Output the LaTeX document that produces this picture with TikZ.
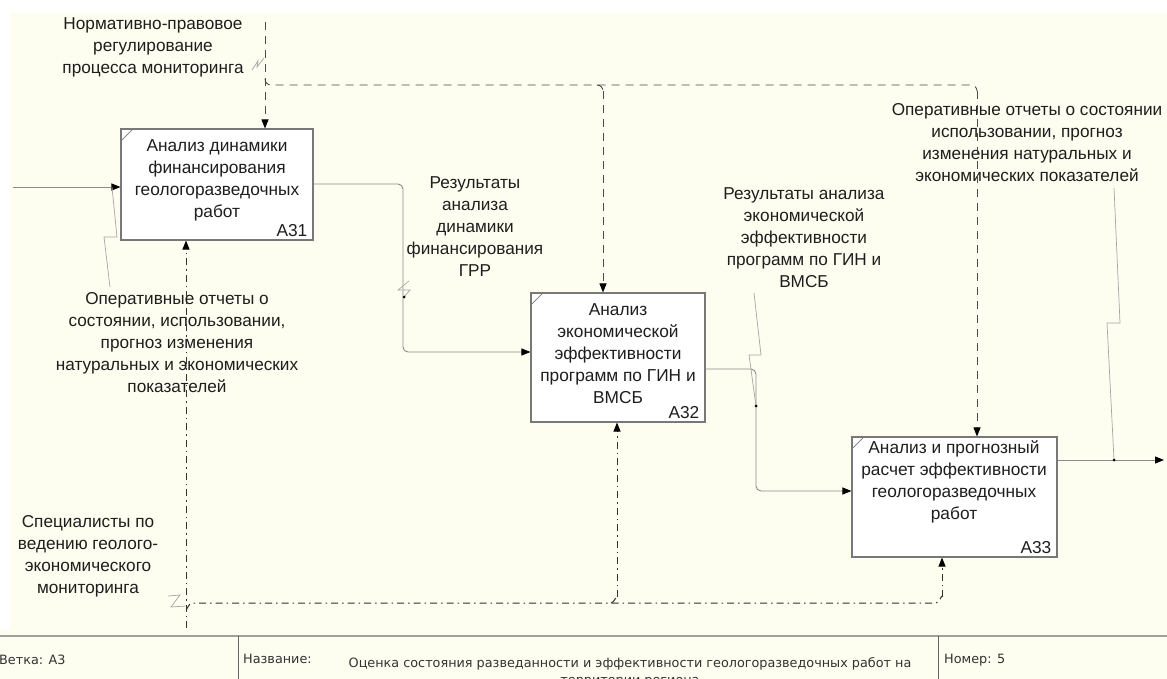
\documentclass[tikz,border=0pt]{standalone}
\usepackage{fontspec}
\setmainfont{Liberation Sans}
\newfontfamily\tbfont{DejaVu Sans}
\usetikzlibrary{arrows.meta}
\definecolor{paper}{RGB}{253,253,240}
\definecolor{edge}{RGB}{120,120,120}
\definecolor{wire}{RGB}{140,140,140}
\definecolor{ink}{RGB}{30,30,30}
\definecolor{tbline}{RGB}{160,160,160}
\begin{document}
\begin{tikzpicture}[x=1pt,y=-1pt,
  fnbox/.style={draw=edge, fill=white, line width=1.1pt, inner sep=0pt, rectangle},
  boxtext/.style={font=\fontsize{17.3}{22}\selectfont, align=center, text=ink, inner sep=0pt},
  lbl/.style={font=\fontsize{17.2}{22}\selectfont, align=center, text=ink, inner sep=0pt},
  boxid/.style={font=\fontsize{17.3}{20}\selectfont, text=ink, inner sep=0pt, anchor=base east},
  arr/.style={-{Triangle[length=9pt,width=7pt,color=black]}},
  flow/.style={draw=wire, line width=0.9pt, arr},
  ctrl/.style={draw=black!70, line width=0.9pt, dash pattern=on 8pt off 6pt},
  mech/.style={draw=black!80, line width=1pt, dash pattern=on 7pt off 4pt on 1.5pt off 4pt},
  leader/.style={draw=black!35, line width=0.7pt},
  tbtext/.style={font=\tbfont\fontsize{12.8}{14}\selectfont, text=black!80, inner sep=0pt},
  jdot/.style={fill=black, circle, inner sep=0pt, minimum size=3pt}
]
\useasboundingbox (0,0) rectangle (1167,679);
\fill[white] (0,0) rectangle (1167,679);
\fill[paper] (10,13) rectangle (1167,679);
\fill[paper] (0,630) rectangle (10,679);

% activity boxes
\node[fnbox, minimum width=192pt, minimum height=111pt] (a31) at (217,184.5) {};
\node[fnbox, minimum width=174pt, minimum height=129pt] (a32) at (618,357.5) {};
\node[fnbox, minimum width=205pt, minimum height=120pt] (a33) at (954.5,497) {};
\foreach \b in {a31,a32,a33}{
  \draw[edge, line width=0.8pt] ([yshift=-13pt]\b.north west) -- ([xshift=13pt]\b.north west);
}
\node[boxtext] (t31) at (217,180) {Анализ динамики\\финансирования\\геологоразведочных\\работ};
\node[boxtext] (t32) at (618,354) {Анализ\\экономической\\эффективности\\программ по ГИН и\\ВМСБ};
\node[boxtext] (t33) at (954,482) {Анализ и прогнозный\\расчет эффективности\\геологоразведочных\\работ};
\node[boxid] (id31) at ([xshift=-6pt,yshift=4pt]a31.south east) {A31};
\node[boxid] (id32) at ([xshift=-6pt,yshift=4pt]a32.south east) {A32};
\node[boxid] (id33) at ([xshift=-6pt,yshift=4pt]a33.south east) {A33};

% arrow labels
\node[lbl] (lctl) at (153,47.5) {Нормативно-правовое\\регулирование\\процесса мониторинга};
\node[lbl] (lo1) at (475,227) {Результаты\\анализа\\динамики\\финансирования\\ГРР};
\node[lbl] (lo2) at (804,238) {Результаты анализа\\экономической\\эффективности\\программ по ГИН и\\ВМСБ};
\node[lbl] (lo3) at (1027,142.5) {Оперативные отчеты о состоянии\\использовании, прогноз\\изменения натуральных и\\экономических показателей};
\node[lbl] (lin) at (177,343) {Оперативные отчеты о\\состоянии, использовании,\\прогноз изменения\\натуральных и экономических\\показателей};
\node[lbl] (lmech) at (88,556) {Специалисты по\\ведению геолого-\\экономического\\мониторинга};

% free ends on the boundary
\coordinate (in1) at (13,187);
\coordinate (ctop) at (265,22);
\coordinate (cbot) at (186,628);
\coordinate (out1) at (1164,460);

% input
\draw[flow] (in1) -- (in1 -| a31.west);
% A31 -> A32
\draw[flow, rounded corners=5pt] (a31.east |- 0,184) -- (403,184) -- (403,352) -- (a32.west |- 0,352);
% A32 -> A33
\draw[flow, rounded corners=5pt] (a32.east |- 0,369) -- (756,369) -- (756,491) -- (a33.west |- 0,491);
% A33 output
\draw[flow] (a33.east |- 0,460) -- (out1);

% control
\draw[ctrl, arr] (ctop) -- (a31.north -| 265,0);
\draw[ctrl] (265,79) to[out=-90,in=180] (271,85) -- (971,85) to[out=0,in=90] (977,91);
\draw[ctrl, arr] (977,91) -- (a33.north -| 977,0);
\draw[ctrl] (597,85) to[out=0,in=90] (603,91);
\draw[ctrl, arr] (603,91) -- (a32.north -| 603,0);

% mechanism
\draw[mech, arr] (cbot) -- (a31.south -| 186,0);
\draw[mech] (186,609) to[out=-90,in=180] (192,603) -- (936,603) to[out=0,in=90] (942,597);
\draw[mech, arr] (942,597) -- (a33.south -| 942,0);
\draw[mech] (611,603) to[out=0,in=90] (617,597);
\draw[mech, arr] (617,597) -- (a32.south -| 617,0);

% label leaders and squiggles
\draw[leader] (252,70) -- (258,61) -- (257,67) -- (264,58);
\draw[leader] (168,596) -- (180,595) -- (171,607) -- (186,606);
\draw[leader] (409,281) -- (398,290) -- (410,290) -- (404,297);
\node[jdot] (d1) at (404,297) {};
\draw[leader] (110,287) -- (104,237) -- (117,237) -- (112,187);
\draw[leader] (754,293) -- (761,355) -- (749,355) -- (756,406);
\node[jdot] (d2) at (756,406) {};
\draw[leader] (1114,188) -- (1120,323) -- (1107,323) -- (1114,460);
\node[jdot] (d3) at (1114,460) {};

% title block
\draw[tbline, line width=1.5pt] (0,636) -- (1167,636);
\draw[black!60, line width=1pt] (238,636) -- (238,679);
\draw[black!60, line width=1pt] (938,636) -- (938,679);
\node[tbtext, anchor=base west] (tb1) at (-1,664) {Ветка: A3};
\node[tbtext, anchor=base west] (tb2) at (243,663) {Название:};
\node[tbtext, anchor=base] (tb3) at (630,667) {Оценка состояния разведанности и эффективности геологоразведочных работ на};
\node[tbtext, anchor=base] (tb4) at (630,684) {территории региона};
\node[tbtext, anchor=base west] (tb5) at (944,663) {Номер: 5};
\end{tikzpicture}
\end{document}
